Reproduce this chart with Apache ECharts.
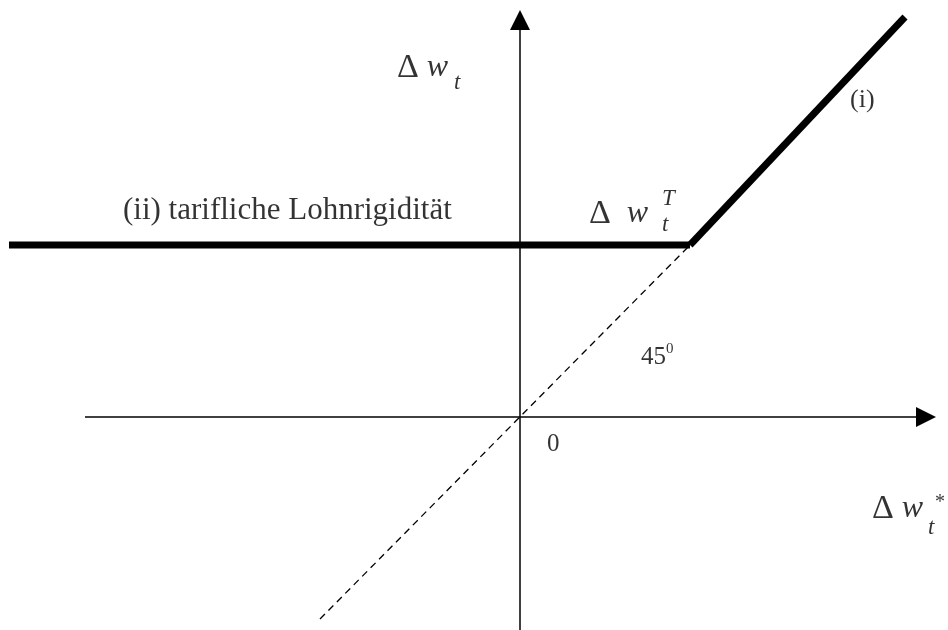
<!DOCTYPE html>
<html>
<head>
<meta charset="utf-8">
<script src="https://cdn.jsdelivr.net/npm/echarts@6/dist/echarts.min.js"></script>
<style>
  html, body { margin: 0; background: #fff; }
  #main { width: 948px; height: 630px; }
</style>
</head>
<body>
<div id="main"></div>
<script>
// units: 1 unit = 10px, origin = where the two axes cross
const xRange = [-52, 42.8]
const yRange = [-21.3, 41.7]
const xAxisEnds = [[-43.5, 0], [40.6, 0]]
const yAxisEnds = [[0, -21.3], [0, 39.7]]
const rigidWage = [[-51.1, 17.2], [17.0, 17.2]] // (ii) tarifliche Lohnrigiditaet
const flexWage = [[17.0, 17.2], [38.5, 40.0]] // (i)
const diagonal = [[-20.0, -20.2], [17.0, 17.2]] // 45 degree line
const labels = [
  [-39.7, 20.6, '{txt|(ii) tarifliche Lohnrigidität}'],
  [33.0, 31.7, '{sm|(i)}'],
  [12.1, 6.0, '{num|45}{deg|0}'],
  [2.7, -2.7, '{num|0}'],
  [-12.3, 34.9, '{d|Δ}{w| w}'],
  [-6.6, 33.4, '{s|t}'],
  [6.9, 20.3, '{d|Δ}{w|  w}'],
  [14.2, 21.8, '{s|T}'],
  [14.2, 19.2, '{s|t}'],
  [35.2, -9.2, '{d|Δ}{w| w}'],
  [40.8, -11.1, '{s|t}'],
  [41.5, -8.6, '{st|*}']
]

const serif = 'Liberation Serif'
const chart = echarts.init(document.getElementById('main'))

chart.setOption({
  animation: false,
  backgroundColor: '#fff',
  grid: { left: 0, right: 0, top: 0, bottom: 0 },
  xAxis: { type: 'value', min: xRange[0], max: xRange[1], show: false },
  yAxis: { type: 'value', min: yRange[0], max: yRange[1], show: false },
  series: [
    {
      type: 'lines',
      coordinateSystem: 'cartesian2d',
      symbol: ['none', 'triangle'],
      symbolSize: [20, 20],
      itemStyle: { color: '#000' },
      lineStyle: { color: '#000', width: 1.5, opacity: 1 },
      silent: true,
      data: [{ coords: xAxisEnds }, { coords: yAxisEnds }]
    },
    {
      type: 'line',
      data: diagonal,
      symbol: 'none',
      lineStyle: { color: '#000', width: 1.3, type: [7, 5] }
    },
    {
      type: 'line',
      data: rigidWage,
      symbol: 'none',
      lineStyle: { color: '#000', width: 7, cap: 'butt' }
    },
    {
      type: 'line',
      data: flexWage,
      symbol: 'none',
      lineStyle: { color: '#000', width: 7, cap: 'butt' }
    },
    {
      type: 'scatter',
      symbolSize: 0,
      itemStyle: { color: 'rgba(0,0,0,0)' },
      silent: true,
      data: labels.map(l => ({ value: [l[0], l[1]], name: l[2] })),
      label: {
        show: true,
        position: 'right',
        distance: 0,
        color: '#000',
        formatter: p => p.name,
        rich: {
          txt: { fontFamily: serif, fontSize: 31, color: '#000' },
          sm: { fontFamily: serif, fontSize: 26, color: '#000' },
          num: { fontFamily: serif, fontSize: 25, lineHeight: 30, color: '#000' },
          deg: { fontFamily: serif, fontSize: 15, lineHeight: 15, verticalAlign: 'top', color: '#000' },
          d: { fontFamily: serif, fontSize: 34, color: '#000' },
          w: { fontFamily: serif, fontSize: 32, fontStyle: 'italic', color: '#000' },
          s: { fontFamily: serif, fontSize: 23, fontStyle: 'italic', color: '#000' },
          st: { fontFamily: serif, fontSize: 20, color: '#000' }
        }
      }
    }
  ]
})
</script>
</body>
</html>
